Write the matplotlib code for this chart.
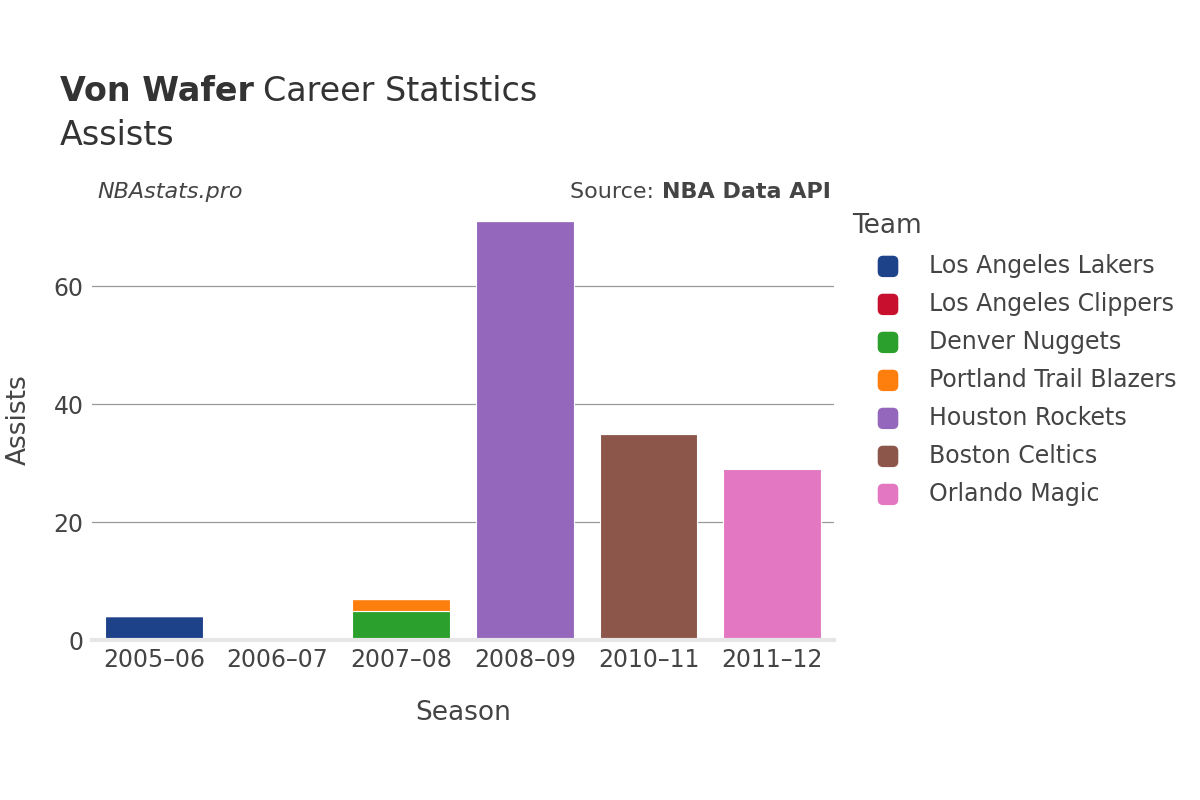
import matplotlib.pyplot as plt
from matplotlib.patches import FancyBboxPatch
import numpy as np

seasons = ['2005–06', '2006–07', '2007–08', '2008–09', '2010–11', '2011–12']
teams = ['Los Angeles Lakers', 'Los Angeles Clippers', 'Denver Nuggets',
         'Portland Trail Blazers', 'Houston Rockets', 'Boston Celtics', 'Orlando Magic']
colors = ['#1d428a', '#c8102e', '#2ca02c', '#ff7f0e', '#9467bd', '#8c564b', '#e377c2']

# assists per team per season (0 = no games for that team)
lakers   = [4, 0, 0, 0, 0, 0]
clippers = [0, 0, 0, 0, 0, 0]
nuggets  = [0, 0, 5, 0, 0, 0]
blazers  = [0, 0, 2, 0, 0, 0]
rockets  = [0, 0, 0, 71, 0, 0]
celtics  = [0, 0, 0, 0, 35, 0]
magic    = [0, 0, 0, 0, 0, 29]
values = [lakers, clippers, nuggets, blazers, rockets, celtics, magic]

txt = '#444444'
fig = plt.figure(figsize=(12, 8), dpi=100)
ax = fig.add_axes([0.0767, 0.2, 0.6183, 0.55])

x = np.arange(len(seasons))
bottom = np.zeros(len(seasons))
for team, vals, c in zip(teams, values, colors):
    vals = np.array(vals, dtype=float)
    ax.bar(x, vals, width=0.79, bottom=bottom, color=c, edgecolor='white',
           linewidth=0.8, zorder=3)
    bottom += vals

ax.set_xlim(-0.5, len(seasons) - 0.5)
ax.set_ylim(0, 74.6)
ax.set_yticks([0, 20, 40, 60])
ax.set_xticks(x)
ax.set_xticklabels(seasons)
ax.tick_params(axis='both', length=0, labelsize=17, labelcolor=txt, pad=6)
ax.grid(axis='y', color='#999999', linewidth=0.9, zorder=0)
ax.axhline(0, color='#e6e6e6', linewidth=3, zorder=4, clip_on=False)
for s in ax.spines.values():
    s.set_visible(False)

ax.set_xlabel('Season', fontsize=19, color=txt, labelpad=20)
ax.set_ylabel('Assists', fontsize=19, color=txt, labelpad=16)

# title: bold name followed by normal text
r = fig.canvas.get_renderer()
t1 = fig.text(0.05, 0.874, 'Von Wafer', fontsize=24, fontweight='bold', color='#333333', va='baseline')
bb = t1.get_window_extent(renderer=r)
fig.text(bb.x1 / 1200 + 0.008, 0.874, 'Career Statistics', fontsize=24, color='#333333', va='baseline')
fig.text(0.05, 0.819, 'Assists', fontsize=24, color='#333333', va='baseline')
fig.text(0.081, 0.752, 'NBAstats.pro', fontsize=16, style='italic', color=txt, va='baseline')
t2 = fig.text(0.692, 0.752, 'NBA Data API', fontsize=16, fontweight='bold', color=txt, va='baseline', ha='right')
bb2 = t2.get_window_extent(renderer=r)
fig.text(bb2.x0 / 1200, 0.752, 'Source: ', fontsize=16, color=txt, va='baseline', ha='right')

# legend
fig.text(0.71, 0.717, 'Team', fontsize=19, color=txt, va='center')
for i, (team, c) in enumerate(zip(teams, colors)):
    yc = 0.667 - i * 0.0475
    fig.patches.append(FancyBboxPatch((0.732, yc - 0.0125), 0.016, 0.025,
                                      boxstyle='round,pad=0,rounding_size=0.004',
                                      transform=fig.transFigure, color=c,
                                      mutation_aspect=1.5))
    fig.text(0.774, yc, team, fontsize=17, color=txt, va='center')

fig.savefig('out.png', dpi=100)
